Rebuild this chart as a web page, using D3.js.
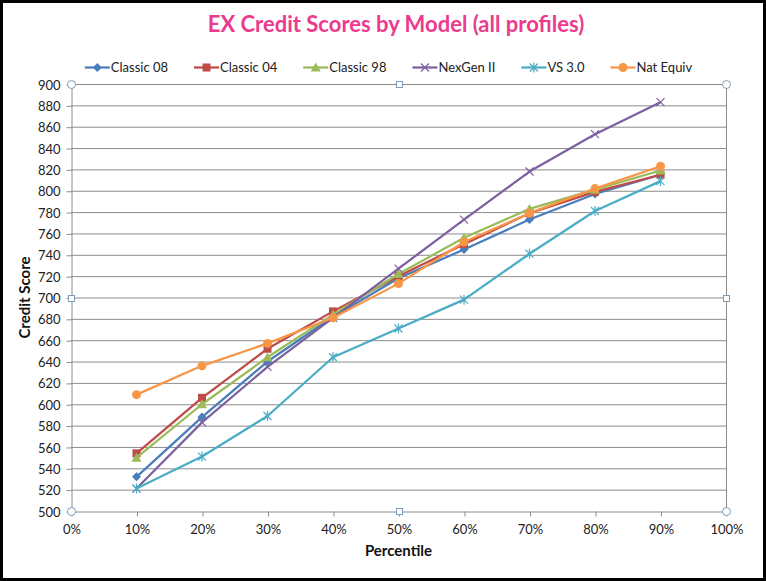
<!DOCTYPE html>
<html lang="en">
<head>
<meta charset="UTF-8" />
<title>EX Credit Scores by Model</title>
<style>
  * { margin:0; padding:0; box-sizing:border-box; }
  body { background:#fff; width:766px; height:581px; overflow:hidden; font-family:Lato,'Open Sans',sans-serif; }
  svg { display:block; }
  .grid line { stroke:#8c8c8c; stroke-width:1; }
  .axis path, .axis line { stroke:#8c8c8c; }
  .axis text { fill:#222; font-size:13px; font-family:Lato,sans-serif; }
  .legend text { fill:#222; font-size:13px; }
</style>
</head>
<body>
<script src="https://d3js.org/d3.v7.min.js"></script>
<script>
  // data
  const percentiles = [10, 20, 30, 40, 50, 60, 70, 80, 90];
  const seriesNames = ['Classic 08', 'Classic 04', 'Classic 98', 'NexGen II', 'VS 3.0', 'Nat Equiv'];
  const classic08 = [532, 588, 640, 682, 718, 745, 773, 797, 815];
  const classic04 = [554, 606, 652, 687, 720, 750, 779, 799, 815];
  const classic98 = [550, 600, 644, 684, 722, 756, 783, 801, 819];
  const nexgen2   = [521, 583, 635, 681, 727, 773, 818, 853, 883];
  const vs30      = [521, 551, 589, 644, 671, 698, 741, 781, 809];
  const natEquiv  = [609, 636, 657, 681, 713, 752, 779, 802, 823];
  const xTicks = [0, 10, 20, 30, 40, 50, 60, 70, 80, 90, 100];
  const yTicks = d3.range(500, 901, 20);

  const colors = ['#4A7EBB', '#BE4B48', '#9BBB59', '#7D60A0', '#4BACC6', '#F79646'];
  const markers = ['diamond', 'square', 'triangle', 'cross', 'star', 'circle'];
  const values = [classic08, classic04, classic98, nexgen2, vs30, natEquiv];

  const W = 766, H = 581;
  const plot = { left:71, right:726, top:84, bottom:511 };

  const svg = d3.select('body').append('svg').attr('width', W).attr('height', H);
  svg.append('rect').attr('x', 1.5).attr('y', 1.5).attr('width', W - 3).attr('height', H - 3)
    .attr('fill', '#fff').attr('stroke', '#000').attr('stroke-width', 3);

  const x = d3.scaleLinear().domain([0, 100]).range([plot.left, plot.right]);
  const y = d3.scaleLinear().domain([500, 900]).range([plot.bottom, plot.top]);

  // gridlines
  svg.append('g').attr('class', 'grid').selectAll('line').data(yTicks.slice(1)).join('line')
    .attr('x1', plot.left).attr('x2', plot.right)
    .attr('y1', d => y(d) + 0.5).attr('y2', d => y(d) + 0.5);
  svg.append('line').attr('x1', plot.right + 0.5).attr('x2', plot.right + 0.5)
    .attr('y1', plot.top).attr('y2', plot.bottom).attr('stroke', '#8c8c8c');

  // axes
  const yAxis = svg.append('g').attr('class', 'axis').attr('transform', `translate(${plot.left + 0.5},0.5)`)
    .call(d3.axisLeft(y).tickValues(yTicks).tickSize(5).tickPadding(6).tickSizeOuter(0));
  yAxis.selectAll('text').attr('dy', '0.35em');
  svg.append('g').attr('class', 'axis').attr('transform', `translate(0.5,${plot.bottom + 0.5})`)
    .call(d3.axisBottom(x).tickValues(xTicks).tickSize(5).tickPadding(8).tickSizeOuter(0)
      .tickFormat(d => d + '%'));

  // axis titles
  svg.append('text').attr('x', (plot.left + plot.right) / 2).attr('y', 556)
    .attr('text-anchor', 'middle').attr('font-weight', 'bold').attr('font-size', 15).attr('fill', '#111')
    .text('Percentile');
  svg.append('text').attr('transform', `translate(30,${(plot.top + plot.bottom) / 2}) rotate(-90)`)
    .attr('text-anchor', 'middle').attr('font-weight', 'bold').attr('font-size', 15).attr('fill', '#111')
    .text('Credit Score');

  // title
  svg.append('text').attr('x', 396).attr('y', 32).attr('text-anchor', 'middle')
    .attr('font-weight', 'bold').attr('font-size', 22).attr('fill', '#EC3A8F')
    .text('EX Credit Scores by Model (all profiles)');

  function drawMarker(g, type, color) {
    if (type === 'diamond') g.append('path').attr('d', 'M0,-4.5L4.5,0L0,4.5L-4.5,0Z').attr('fill', color);
    else if (type === 'square') g.append('rect').attr('x', -4).attr('y', -4).attr('width', 8).attr('height', 8).attr('fill', color);
    else if (type === 'triangle') g.append('path').attr('d', 'M0,-5L5,4L-5,4Z').attr('fill', color);
    else if (type === 'cross') g.append('path').attr('d', 'M-4,-4L4,4M-4,4L4,-4').attr('stroke', color).attr('stroke-width', 1.2).attr('fill', 'none');
    else if (type === 'star') g.append('path').attr('d', 'M-4,-4L4,4M-4,4L4,-4M0,-5L0,5').attr('stroke', color).attr('stroke-width', 1.2).attr('fill', 'none');
    else g.append('circle').attr('r', 4.5).attr('fill', color);
  }

  const line = d3.line().x((d, i) => x(percentiles[i])).y(d => y(d));
  values.forEach((vals, s) => {
    const g = svg.append('g');
    g.append('path').attr('d', line(vals)).attr('fill', 'none')
      .attr('stroke', colors[s]).attr('stroke-width', 2.25).attr('stroke-linejoin', 'round');
    vals.forEach((v, i) => {
      const m = g.append('g').attr('transform', `translate(${x(percentiles[i])},${y(v)})`);
      drawMarker(m, markers[s], colors[s]);
    });
  });

  // plot area handles
  const handle = '#7f9db9';
  [[plot.left, plot.top], [plot.right, plot.top], [plot.left, plot.bottom], [plot.right, plot.bottom]].forEach(p => {
    svg.append('circle').attr('cx', p[0] + 0.5).attr('cy', p[1] + 0.5).attr('r', 4)
      .attr('fill', '#fff').attr('stroke', handle);
  });
  [[(plot.left + plot.right) / 2, plot.top], [(plot.left + plot.right) / 2, plot.bottom],
   [plot.left, (plot.top + plot.bottom) / 2], [plot.right, (plot.top + plot.bottom) / 2]].forEach(p => {
    svg.append('rect').attr('x', Math.round(p[0]) - 3 + 0.5).attr('y', Math.round(p[1]) - 3 + 0.5)
      .attr('width', 6).attr('height', 6).attr('fill', '#fff').attr('stroke', handle);
  });

  // legend
  const legend = svg.append('g').attr('class', 'legend');
  let lx = 0;
  seriesNames.forEach((name, s) => {
    const g = legend.append('g');
    g.append('line').attr('x1', 0).attr('x2', 25).attr('y1', 0).attr('y2', 0)
      .attr('stroke', colors[s]).attr('stroke-width', 2.25);
    drawMarker(g.append('g').attr('transform', 'translate(12.5,0)'), markers[s], colors[s]);
    const t = g.append('text').attr('x', 26).attr('dy', '0.35em').text(name);
    const w = 26 + t.node().getComputedTextLength();
    g.attr('transform', `translate(${lx},0)`);
    lx += w + 26;
  });
  const total = lx - 26;
  legend.attr('transform', `translate(${388.5 - total / 2},67.5)`);
</script>
</body>
</html>
